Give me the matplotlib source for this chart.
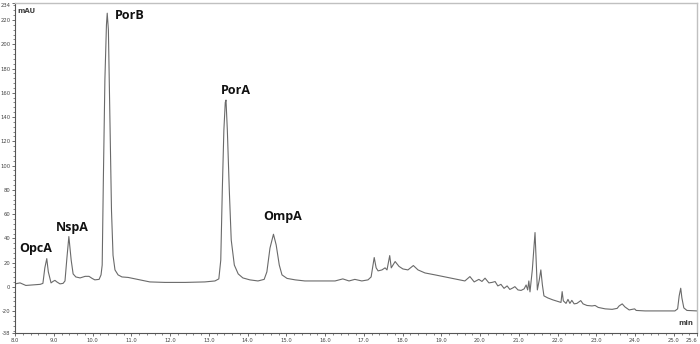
import matplotlib.pyplot as plt
from matplotlib.ticker import MultipleLocator, FixedLocator

# retention time (min) and absorbance (mAU)
time_min = [
    8.00, 8.13, 8.28, 8.44, 8.65, 8.72, 8.77, 8.82, 8.86, 8.93, 8.98, 9.03, 9.08, 9.16,
    9.24, 9.29, 9.34, 9.39, 9.45, 9.50, 9.57, 9.68, 9.81, 9.91, 9.99, 10.06, 10.17, 10.22,
    10.25, 10.28, 10.32, 10.36, 10.38, 10.41, 10.45, 10.49, 10.53, 10.58, 10.66, 10.76,
    10.92, 11.10, 11.28, 11.48, 11.87, 12.39, 12.90, 13.16, 13.26, 13.31, 13.35, 13.39,
    13.426, 13.445, 13.48, 13.53, 13.58, 13.66, 13.76, 13.88, 14.06, 14.27, 14.43, 14.50,
    14.58, 14.67, 14.74, 14.82, 14.89, 15.02, 15.23, 15.48, 15.74, 16.00, 16.26, 16.46,
    16.62, 16.77, 16.95, 17.11, 17.19, 17.27, 17.32, 17.37, 17.47, 17.55, 17.60, 17.67,
    17.71, 17.81, 17.91, 18.01, 18.14, 18.28, 18.40, 18.58, 18.84, 19.10, 19.35, 19.61,
    19.74, 19.85, 19.97, 20.05, 20.13, 20.23, 20.31, 20.39, 20.46, 20.54, 20.62, 20.70,
    20.77, 20.85, 20.90, 20.98, 21.06, 21.14, 21.19, 21.23, 21.26, 21.29, 21.35, 21.42,
    21.46, 21.48, 21.53, 21.57, 21.61, 21.65, 21.75, 21.88, 22.01, 22.09, 22.12, 22.15,
    22.22, 22.27, 22.32, 22.37, 22.43, 22.50, 22.55, 22.60, 22.66, 22.76, 22.89, 22.97,
    23.05, 23.23, 23.41, 23.54, 23.59, 23.67, 23.74, 23.85, 23.93, 23.99, 24.03, 24.26,
    24.65, 25.03, 25.10, 25.14, 25.18, 25.21, 25.26, 25.34, 25.60,
]
signal_mau = [
    2.5, 3.3, 1.2, 1.6, 2.1, 2.9, 15.7, 23.3, 12.4, 3.3, 4.5, 5.4, 4.1, 2.5,
    2.9, 4.9, 24.0, 41.5, 22.0, 10.7, 8.2, 7.4, 8.7, 8.7, 7.0, 5.8, 6.2, 9.9,
    18.0, 88.0, 171.0, 216.0, 225.6, 212.0, 138.0, 63.0, 26.0, 14.0, 9.9, 8.2,
    7.8, 6.6, 5.4, 4.1, 3.7, 3.7, 4.1, 4.9, 6.6, 22.0, 80.0, 129.0,
    152.0, 154.0, 129.0, 80.0, 38.7, 18.0, 10.7, 7.4, 5.8, 4.9, 6.2, 12.4,
    32.0, 43.4, 34.6, 18.0, 9.9, 7.0, 5.8, 4.9, 4.9, 4.9, 4.9, 6.6,
    4.9, 6.2, 4.9, 5.8, 8.2, 24.2, 15.7, 13.2, 14.0, 15.7, 14.0, 25.8,
    15.7, 20.9, 16.9, 14.8, 14.0, 17.6, 14.0, 11.5, 9.9, 8.2, 6.6, 4.9,
    8.5, 4.1, 6.2, 4.5, 7.2, 3.3, 3.7, 4.4, 0.8, 2.1, -1.2, 0.8,
    -2.1, -0.8, 0.2, -2.5, -2.9, -1.6, 1.6, -2.5, 4.9, -4.1, 14.0, 44.8,
    14.0, -2.5, 5.8, 14.0, 1.6, -7.4, -9.1, -10.7, -12.0, -12.8, -3.9, -11.5,
    -13.6, -10.3, -13.6, -11.1, -14.0, -13.6, -12.4, -11.3, -14.0, -15.3, -15.7, -15.3,
    -16.9, -18.1, -18.5, -17.7, -15.7, -14.0, -16.5, -19.0, -18.5, -18.1, -19.4, -19.8,
    -19.8, -19.8, -18.1, -7.4, -1.1, -9.1, -17.3, -19.4, -19.8,
]

# peak annotations
peak_names = ['OpcA', 'NspA', 'PorB', 'PorA', 'OmpA']
peak_label_t = [8.54, 9.47, 10.97, 13.70, 14.90]
peak_label_v = [32, 48.6, 224, 162, 58]

x_ticks = [8.0, 9.0, 10.0, 11.0, 12.0, 13.0, 14.0, 15.0, 16.0, 17.0, 18.0,
           19.0, 20.0, 21.0, 22.0, 23.0, 24.0, 25.0, 25.6]
y_ticks = [-38, -20, 0, 20, 40, 60, 80, 100, 120, 140, 160, 180, 200, 220, 234]

fig = plt.figure(figsize=(7.0, 3.44), dpi=100)
ax = fig.add_axes([15 / 700, 11 / 344, 682 / 700, 330 / 344])

ax.plot(time_min, signal_mau, color='#6a6a6a', lw=0.8)

ax.set_xlim(8.0, 25.6)
ax.set_ylim(-38, 234)
ax.xaxis.set_major_locator(FixedLocator(x_ticks))
ax.yaxis.set_major_locator(FixedLocator(y_ticks))
ax.xaxis.set_minor_locator(MultipleLocator(0.2))
ax.yaxis.set_minor_locator(MultipleLocator(4))
ax.set_xticklabels(['%.1f' % t for t in x_ticks])
ax.set_yticklabels([str(v) for v in y_ticks])
ax.tick_params(which='major', length=2.5, width=0.6, color='#555555',
               labelsize=3.8, labelcolor='#444444', pad=0.8)
ax.tick_params(which='minor', length=1.3, width=0.5, color='#555555')

# keep the edge labels inside the figure
xlabels = ax.get_xticklabels()
xlabels[-1].set_horizontalalignment('right')
ylabels = ax.get_yticklabels()
ylabels[-1].set_verticalalignment('top')

for side in ['left', 'bottom']:
    ax.spines[side].set_color('#555555')
    ax.spines[side].set_linewidth(0.8)
for side in ['top', 'right']:
    ax.spines[side].set_color('#c0c0c0')
    ax.spines[side].set_linewidth(1.0)

ax.text(0.004, 0.985, 'mAU', transform=ax.transAxes, fontsize=5,
        color='#444444', fontweight='bold', ha='left', va='top')
ax.text(0.995, 0.02, 'min', transform=ax.transAxes, fontsize=5,
        color='#444444', fontweight='bold', ha='right', va='bottom')

for name, t, v in zip(peak_names, peak_label_t, peak_label_v):
    ax.text(t, v, name, fontsize=9, fontweight='bold', family='Open Sans',
            ha='center', va='center', color='#111111')

fig.savefig('out.png', dpi=100)
